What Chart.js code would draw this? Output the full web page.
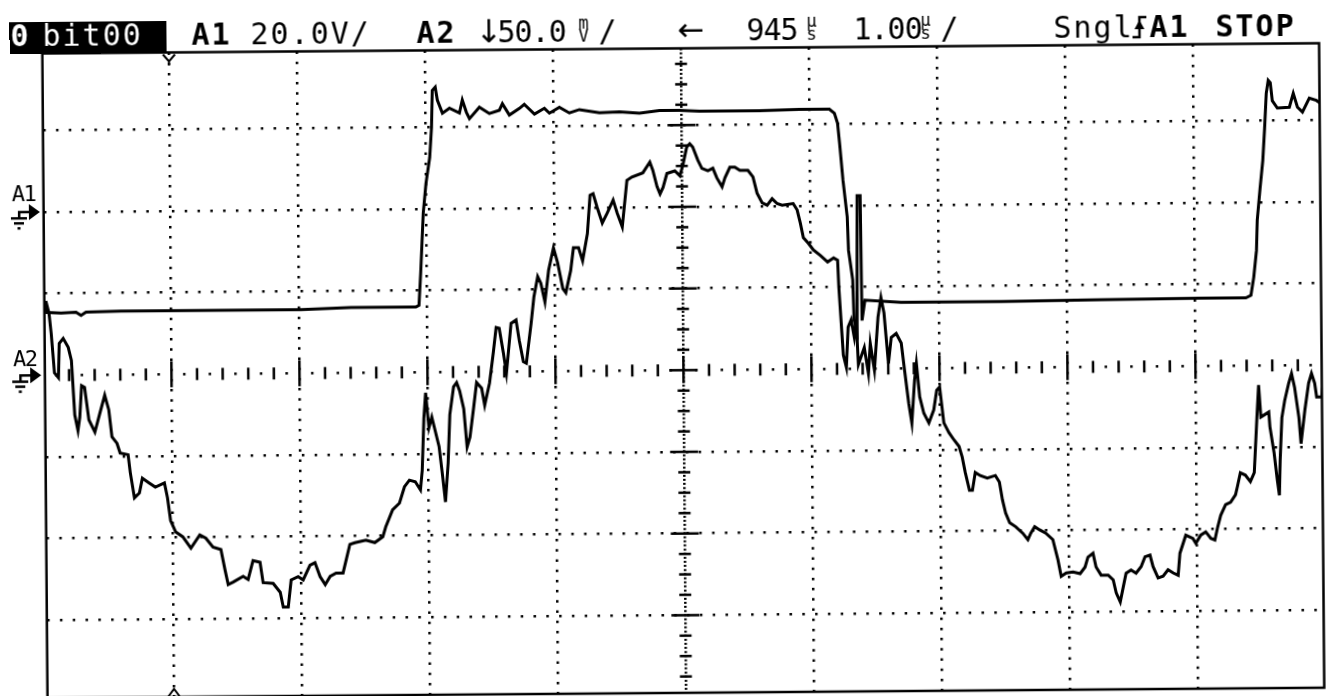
<!DOCTYPE html>
<html lang="en">
<head>
<meta charset="utf-8">
<title>bit00 - A1 / A2 single shot</title>
<script src="https://cdn.jsdelivr.net/npm/chart.js@4.4.1/dist/chart.umd.min.js"></script>
<style>
  html, body { margin: 0; padding: 0; background: #fff; overflow: hidden; }
  #scope {
    position: relative; width: 1326px; height: 696px;
    /* the scanned screen sits a little crooked */
    transform: rotate(-0.46deg); transform-origin: 663px 348px;
  }
  #scope canvas { position: absolute; left: 0; top: 0; }
  .t { position: absolute; top: 16px; font: 30px/30px "DejaVu Sans Mono", monospace;
       letter-spacing: 2px; white-space: pre; color: #000; }
  .b { font-weight: bold; }
  .w { color: #fff; }
  .n { letter-spacing: -1px; }
  .arr { position: absolute; top: 14px; font: 32px/32px "DejaVu Sans", sans-serif; }
  .box { position: absolute; left: 12px; top: 17px; width: 157px; height: 32px; background: #000; }
  .stk { position: absolute; top: 16px; width: 20px; text-align: center;
         font: 17px/13px "DejaVu Sans Mono", monospace; }
  .ch { position: absolute; left: 13px; font: 22px/22px "DejaVu Sans Mono", monospace;
        letter-spacing: -1.5px; }
</style>
</head>
<body>
<div id="scope">
  <canvas id="chart" width="1326" height="696"></canvas>
  <div class="box"></div>
  <span class="t b w" style="left:13px">0</span>
  <span class="t w" style="left:45px">bit00</span>
  <span class="t b" style="left:194px">A1</span>
  <span class="t" style="left:253px">20.0V/</span>
  <span class="t b" style="left:419px">A2</span>
  <span class="arr" style="left:478px">↓</span>
  <span class="t n" style="left:500px">50.0</span>
  <span class="stk" style="left:576px">m<br>V</span>
  <span class="t" style="left:601px">/</span>
  <span class="arr" style="left:680px">←</span>
  <span class="t n" style="left:749px">945</span>
  <span class="stk" style="left:804px">µ<br>s</span>
  <span class="t n" style="left:856px">1.00</span>
  <span class="stk" style="left:918px">µ<br>s</span>
  <span class="t" style="left:943px">/</span>
  <span class="t" style="left:1056px">Sngl</span>
  <span class="t b" style="left:1152px">A1</span>
  <span class="t b" style="left:1218px">STOP</span>
  <span class="ch" style="top:178px">A1</span>
  <span class="ch" style="top:343px">A2</span>
</div>
<script>
// screen divisions: time 0..10 div (1.00 us/div), level in div from centre line
const a1Time = [
  0.008, 0.031, 0.141, 0.258, 0.297, 0.336, 0.609, 1.234, 2.016, 2.406,
  2.914, 2.938, 2.953, 2.977, 3.0, 3.031, 3.047, 3.055, 3.078, 3.094,
  3.133, 3.188, 3.266, 3.289, 3.320, 3.344, 3.422, 3.5, 3.578, 3.602,
  3.656, 3.734, 3.773, 3.852, 3.930, 3.969, 4.047, 4.125, 4.203, 4.359,
  4.516, 4.672, 4.828, 4.984, 5.141, 5.609, 5.922, 6.156, 6.195, 6.219,
  6.234, 6.258, 6.289, 6.297, 6.328, 6.336, 6.359, 6.367, 6.391, 6.398,
  6.422, 6.703, 7.484, 8.266, 9.047, 9.398, 9.438, 9.461, 9.484, 9.492,
  9.516, 9.539, 9.555, 9.570, 9.586, 9.602, 9.617, 9.656, 9.75, 9.781,
  9.813, 9.852, 9.906, 9.961, 10.0
];
const a1Level = [
  0.92, 0.77, 0.76, 0.77, 0.73, 0.77, 0.78, 0.78, 0.78, 0.80,
  0.80, 0.82, 1.21, 1.95, 2.31, 2.63, 3.00, 3.45, 3.49, 3.33,
  3.17, 3.23, 3.17, 3.33, 3.18, 3.10, 3.24, 3.16, 3.20, 3.28,
  3.14, 3.22, 3.27, 3.15, 3.22, 3.16, 3.23, 3.16, 3.20, 3.16,
  3.17, 3.15, 3.18, 3.18, 3.17, 3.17, 3.18, 3.18, 3.13, 3.01,
  2.76, 2.31, 1.86, 1.45, 1.09, 0.60, 0.47, 2.12, 2.12, 0.59,
  0.84, 0.81, 0.81, 0.82, 0.83, 0.83, 0.86, 1.08, 1.41, 1.78,
  2.17, 2.51, 2.90, 3.33, 3.49, 3.46, 3.24, 3.15, 3.16, 3.33,
  3.16, 3.10, 3.27, 3.24, 3.20
];
const a2Time = [
  0.023, 0.047, 0.063, 0.086, 0.117, 0.125, 0.156, 0.195, 0.219, 0.242,
  0.266, 0.281, 0.297, 0.320, 0.352, 0.398, 0.438, 0.477, 0.508, 0.531,
  0.570, 0.594, 0.656, 0.672, 0.703, 0.742, 0.766, 0.820, 0.867, 0.938,
  0.961, 0.984, 1.023, 1.078, 1.141, 1.211, 1.258, 1.313, 1.375, 1.406,
  1.430, 1.469, 1.547, 1.586, 1.625, 1.680, 1.703, 1.781, 1.836, 1.859,
  1.898, 1.922, 1.977, 2.016, 2.070, 2.109, 2.148, 2.188, 2.227, 2.273,
  2.328, 2.383, 2.422, 2.508, 2.578, 2.641, 2.664, 2.719, 2.773, 2.813,
  2.852, 2.898, 2.938, 2.953, 2.969, 2.984, 3.008, 3.031, 3.086, 3.109,
  3.133, 3.156, 3.172, 3.203, 3.227, 3.250, 3.281, 3.305, 3.328, 3.359,
  3.383, 3.422, 3.445, 3.484, 3.516, 3.539, 3.563, 3.594, 3.617, 3.656,
  3.695, 3.719, 3.750, 3.773, 3.813, 3.836, 3.867, 3.891, 3.922, 3.953,
  3.992, 4.023, 4.063, 4.086, 4.125, 4.148, 4.188, 4.219, 4.258, 4.281,
  4.305, 4.336, 4.375, 4.414, 4.461, 4.492, 4.531, 4.570, 4.609, 4.695,
  4.750, 4.773, 4.805, 4.828, 4.852, 4.883, 4.945, 4.984, 5.008, 5.039,
  5.063, 5.086, 5.125, 5.156, 5.203, 5.242, 5.273, 5.313, 5.336, 5.375,
  5.414, 5.453, 5.516, 5.555, 5.586, 5.625, 5.664, 5.703, 5.742, 5.781,
  5.867, 5.898, 5.922, 5.945, 5.984, 6.023, 6.078, 6.133, 6.180, 6.211,
  6.219, 6.250, 6.273, 6.289, 6.313, 6.336, 6.352, 6.367, 6.414, 6.445,
  6.461, 6.492, 6.523, 6.547, 6.570, 6.602, 6.625, 6.664, 6.703, 6.727,
  6.758, 6.781, 6.805, 6.820, 6.844, 6.875, 6.914, 6.953, 6.977, 7.000,
  7.031, 7.070, 7.109, 7.148, 7.172, 7.195, 7.227, 7.250, 7.273, 7.313,
  7.367, 7.430, 7.461, 7.484, 7.508, 7.539, 7.586, 7.641, 7.680, 7.703,
  7.734, 7.773, 7.820, 7.875, 7.914, 7.938, 7.977, 8.031, 8.086, 8.125,
  8.148, 8.188, 8.211, 8.250, 8.305, 8.344, 8.367, 8.398, 8.422, 8.445,
  8.484, 8.523, 8.563, 8.594, 8.633, 8.656, 8.695, 8.734, 8.773, 8.813,
  8.852, 8.867, 8.914, 8.969, 8.992, 9.031, 9.070, 9.109, 9.141, 9.164,
  9.188, 9.227, 9.266, 9.305, 9.320, 9.344, 9.383, 9.422, 9.453, 9.477,
  9.492, 9.508, 9.539, 9.570, 9.578, 9.609, 9.633, 9.648, 9.656, 9.672,
  9.695, 9.727, 9.750, 9.773, 9.805, 9.820, 9.852, 9.883, 9.906, 9.930,
  9.945, 9.984, 10.0
];
const a2Level = [
  0.91, 0.76, 0.51, 0.03, -0.03, 0.39, 0.45, 0.34, 0.18, -0.49,
  -0.68, -0.52, -0.13, -0.15, -0.55, -0.70, -0.47, -0.25, -0.43, -0.76,
  -0.84, -0.96, -0.98, -1.20, -1.51, -1.45, -1.27, -1.33, -1.38, -1.33,
  -1.51, -1.79, -1.93, -1.99, -2.13, -1.97, -2.01, -2.12, -2.15, -2.40,
  -2.58, -2.55, -2.48, -2.52, -2.29, -2.31, -2.56, -2.57, -2.68, -2.86,
  -2.86, -2.53, -2.49, -2.53, -2.35, -2.32, -2.49, -2.59, -2.49, -2.45,
  -2.45, -2.10, -2.08, -2.05, -2.08, -2.01, -1.89, -1.68, -1.60, -1.40,
  -1.32, -1.34, -1.44, -1.20, -0.56, -0.25, -0.68, -0.55, -0.91, -1.23,
  -1.59, -1.11, -0.52, -0.18, -0.13, -0.23, -0.45, -0.92, -0.80, -0.43,
  -0.13, -0.20, -0.41, -0.14, 0.24, 0.54, 0.53, 0.23, -0.02, 0.59,
  0.63, 0.38, 0.12, 0.10, 0.59, 0.91, 1.16, 1.08, 0.85, 1.24,
  1.51, 1.33, 1.01, 0.96, 1.23, 1.51, 1.51, 1.35, 1.68, 2.15,
  2.17, 2.00, 1.81, 1.93, 2.09, 1.93, 1.76, 2.33, 2.37, 2.42,
  2.55, 2.45, 2.25, 2.16, 2.24, 2.41, 2.44, 2.38, 2.51, 2.73,
  2.77, 2.73, 2.57, 2.47, 2.44, 2.47, 2.35, 2.24, 2.35, 2.48,
  2.48, 2.44, 2.44, 2.36, 2.16, 2.04, 2.01, 2.09, 2.03, 2.01,
  2.03, 1.95, 1.79, 1.61, 1.54, 1.46, 1.39, 1.31, 1.36, 1.33,
  1.00, 0.17, 0.02, 0.51, 0.60, 0.39, 0.60, 0.05, 0.26, -0.06,
  0.31, -0.02, 0.63, 0.87, 0.68, 0.06, 0.38, 0.43, 0.31, -0.02,
  -0.43, -0.67, -0.14, 0.06, -0.35, -0.55, -0.67, -0.51, -0.27, -0.23,
  -0.67, -0.79, -0.88, -0.96, -1.09, -1.28, -1.50, -1.50, -1.28, -1.32,
  -1.35, -1.32, -1.40, -1.62, -1.78, -1.90, -1.95, -2.03, -2.11, -2.03,
  -1.95, -1.99, -2.03, -2.11, -2.36, -2.56, -2.52, -2.51, -2.53, -2.45,
  -2.33, -2.28, -2.45, -2.55, -2.55, -2.61, -2.77, -2.88, -2.70, -2.53,
  -2.49, -2.53, -2.45, -2.33, -2.31, -2.45, -2.59, -2.57, -2.49, -2.53,
  -2.56, -2.29, -2.07, -2.11, -2.17, -2.07, -2.03, -2.11, -2.13, -1.97,
  -1.83, -1.70, -1.67, -1.58, -1.48, -1.31, -1.34, -1.42, -1.31, -0.63,
  -0.24, -0.63, -0.60, -0.57, -0.75, -1.07, -1.41, -1.59, -1.16, -0.64,
  -0.43, -0.22, -0.10, -0.27, -0.64, -0.96, -0.55, -0.22, -0.10, -0.22,
  -0.39, -0.39, -0.18
];
const gridX = [1, 2, 3, 4, 6, 7, 8, 9];
const gridY = [-3, -2, -1, 1, 2, 3];
const groundLevels = [2, 0]; // A1, A2 reference arrows
const triggerAt = 1;

const pts = (t, v) => t.map((x, i) => ({ x, y: v[i] }));
const trace = (label, t, v) => ({
  label,
  data: pts(t, v),
  borderColor: "#000",
  borderWidth: 3,
  pointRadius: 0,
  tension: 0,
  fill: false,
});

// centre axes, frame, trigger marks and ground arrows
const graticule = {
  id: "graticule",
  beforeDatasetsDraw(chart) {
    const { ctx, chartArea: a, scales: { x, y } } = chart;
    const y0 = y.getPixelForValue(0);
    const x0 = x.getPixelForValue(5);
    ctx.save();
    ctx.fillStyle = "#000";
    ctx.strokeStyle = "#000";
    for (let k = 1; k < 100; k++) {
      const px = x.getPixelForValue(k / 10);
      if (px < a.left || px > a.right) continue;
      if (k % 10 === 0) ctx.fillRect(px - 1.25, y0 - 13, 2.5, 26);
      else if (k % 2 === 0) ctx.fillRect(px - 1.25, y0 - 6, 2.5, 12);
      else ctx.fillRect(px - 1.25, y0 - 1.25, 2.5, 2.5);
    }
    ctx.lineWidth = 2.5;
    ctx.setLineDash([2, 2.1]);
    ctx.beginPath();
    ctx.moveTo(x0, a.top);
    ctx.lineTo(x0, a.bottom);
    ctx.stroke();
    ctx.setLineDash([]);
    for (let k = -16; k <= 16; k++) {
      const py = y.getPixelForValue(k / 4);
      if (py < a.top || py > a.bottom) continue;
      const half = k % 4 === 0 ? 14 : 6;
      ctx.fillRect(x0 - half, py - 1.25, half * 2, 2.5);
    }
    ctx.restore();
  },
  afterDraw(chart) {
    const { ctx, chartArea: a, scales: { x, y } } = chart;
    ctx.save();
    ctx.fillStyle = "#000";
    ctx.strokeStyle = "#000";
    ctx.lineWidth = 2.5;
    ctx.strokeRect(a.left, a.top, a.right - a.left, a.bottom - a.top);

    const tx = x.getPixelForValue(triggerAt);
    ctx.lineWidth = 2;
    ctx.beginPath();
    ctx.moveTo(tx - 6, a.top + 2);
    ctx.lineTo(tx, a.top + 9);
    ctx.lineTo(tx + 6, a.top + 2);
    ctx.moveTo(tx, a.top + 9);
    ctx.lineTo(tx, a.top + 13);
    ctx.moveTo(tx - 6, a.bottom);
    ctx.lineTo(tx, a.bottom - 8);
    ctx.lineTo(tx + 6, a.bottom);
    ctx.stroke();

    for (const lv of groundLevels) {
      const gy = y.getPixelForValue(lv);
      ctx.beginPath();
      ctx.moveTo(41, gy);
      ctx.lineTo(30, gy - 8);
      ctx.lineTo(30, gy + 8);
      ctx.closePath();
      ctx.fill();
      ctx.fillRect(19, gy - 1.25, 12, 2.5);
      ctx.fillRect(19, gy, 2.5, 6);
      ctx.fillRect(12, gy + 5, 16, 2.5);
      ctx.fillRect(15, gy + 10, 10, 2.5);
      ctx.fillRect(18.5, gy + 15, 3, 2.5);
    }

    // rising-edge trigger glyph in the header
    ctx.lineWidth = 2.5;
    ctx.beginPath();
    ctx.moveTo(1135, 41);
    ctx.lineTo(1142, 41);
    ctx.lineTo(1142, 21);
    ctx.lineTo(1149, 21);
    ctx.stroke();
    ctx.beginPath();
    ctx.moveTo(1142, 24);
    ctx.lineTo(1137, 33);
    ctx.lineTo(1147, 33);
    ctx.closePath();
    ctx.fill();
    ctx.restore();
  },
};

new Chart(document.getElementById("chart"), {
  type: "line",
  data: {
    datasets: [trace("A1", a1Time, a1Level), trace("A2", a2Time, a2Level)],
  },
  options: {
    responsive: false,
    animation: false,
    events: [],
    layout: { padding: { left: 44.7, right: 4.5, top: 48.5, bottom: 3 } },
    plugins: { legend: { display: false }, tooltip: { enabled: false } },
    scales: {
      x: {
        type: "linear",
        min: 0.011,
        max: 9.986,
        afterBuildTicks: (axis) => {
          axis.ticks = gridX.map((value) => ({ value }));
        },
        ticks: { display: false },
        grid: { color: "#000", lineWidth: 2.5, drawTicks: false },
        border: { display: false, dash: [2.5, 7.7] },
      },
      y: {
        type: "linear",
        min: -3.95,
        max: 3.94,
        afterBuildTicks: (axis) => {
          axis.ticks = gridY.map((value) => ({ value }));
        },
        ticks: { display: false },
        grid: { color: "#000", lineWidth: 2.5, drawTicks: false },
        border: { display: false, dash: [2.5, 10.3] },
      },
    },
  },
  plugins: [graticule],
});
</script>
</body>
</html>
